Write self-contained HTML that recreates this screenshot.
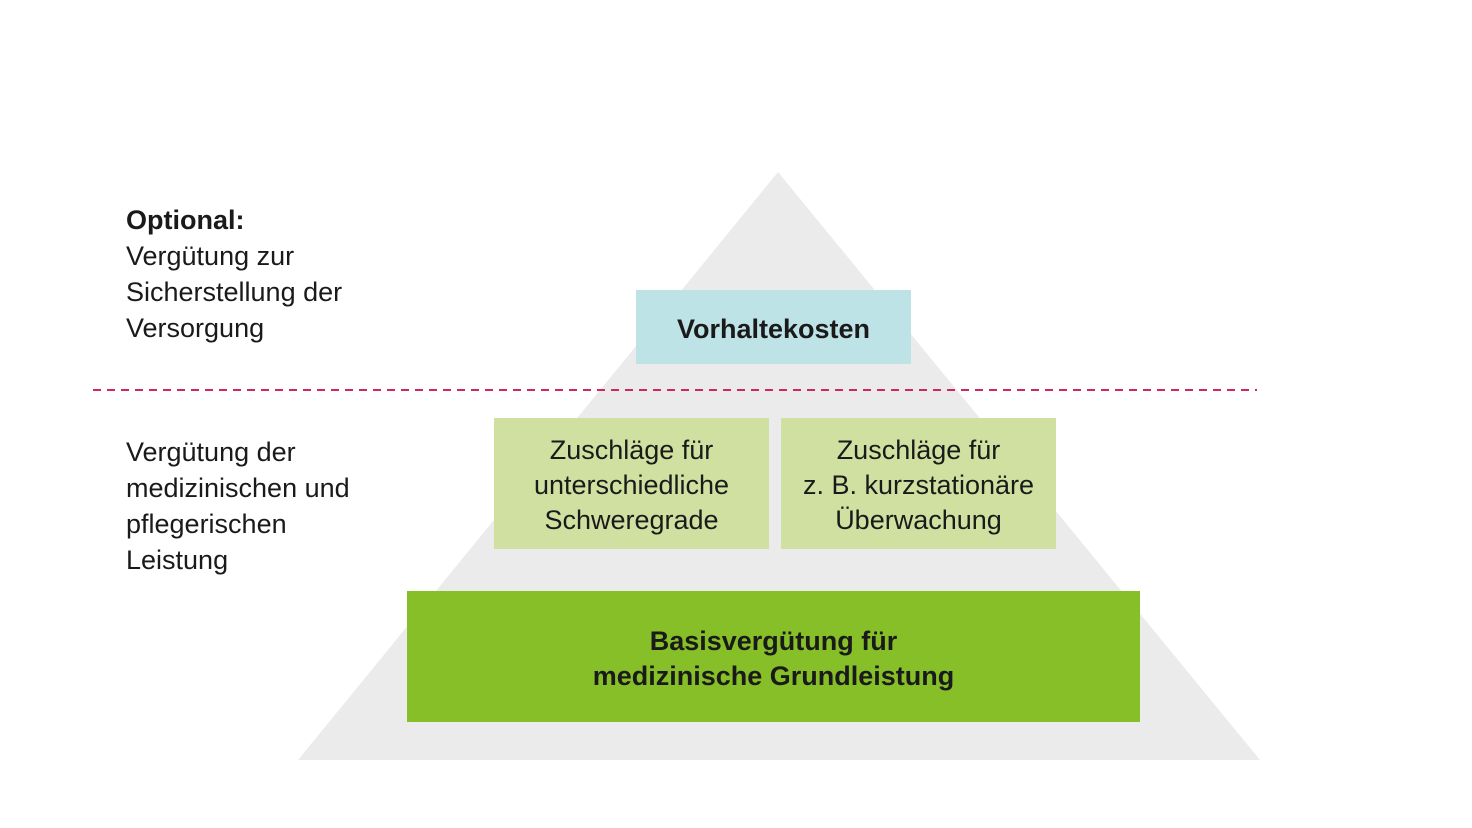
<!DOCTYPE html>
<html><head><meta charset="utf-8"><style>
body{margin:0;width:1472px;height:828px;background:#fff;position:relative;overflow:hidden;font-family:"Liberation Sans","DejaVu Sans",sans-serif;color:#1a1a1a}
.t{position:absolute;font-size:27px;line-height:36px}
.b{position:absolute;display:flex;align-items:center;justify-content:center;text-align:center;font-size:27px;line-height:35px;padding-top:4px;box-sizing:border-box}
</style></head><body>
<svg width="1472" height="828" style="position:absolute;left:0;top:0">
<polygon points="778,172 298,760 1260,760" fill="#ebebeb"/>
<line x1="93" y1="390" x2="1257" y2="390" stroke="#d0285a" stroke-width="2" stroke-dasharray="8,6"/>
</svg>
<div class="t" style="left:126px;top:202px"><b>Optional:</b><br>Vergütung zur<br>Sicherstellung der<br>Versorgung</div>
<div class="t" style="left:126px;top:434px">Vergütung der<br>medizinischen und<br>pflegerischen<br>Leistung</div>
<div class="b" style="left:636px;top:290px;width:275px;height:74px;background:#bee3e7;font-weight:bold">Vorhaltekosten</div>
<div class="b" style="left:494px;top:418px;width:275px;height:131px;background:#cfe0a0">Zuschläge für<br>unterschiedliche<br>Schweregrade</div>
<div class="b" style="left:781px;top:418px;width:275px;height:131px;background:#cfe0a0">Zuschläge für<br>z. B. kurzstationäre<br>Überwachung</div>
<div class="b" style="left:407px;top:591px;width:733px;height:131px;background:#86bf27;font-weight:bold">Basisvergütung für<br>medizinische Grundleistung</div>
</body></html>
